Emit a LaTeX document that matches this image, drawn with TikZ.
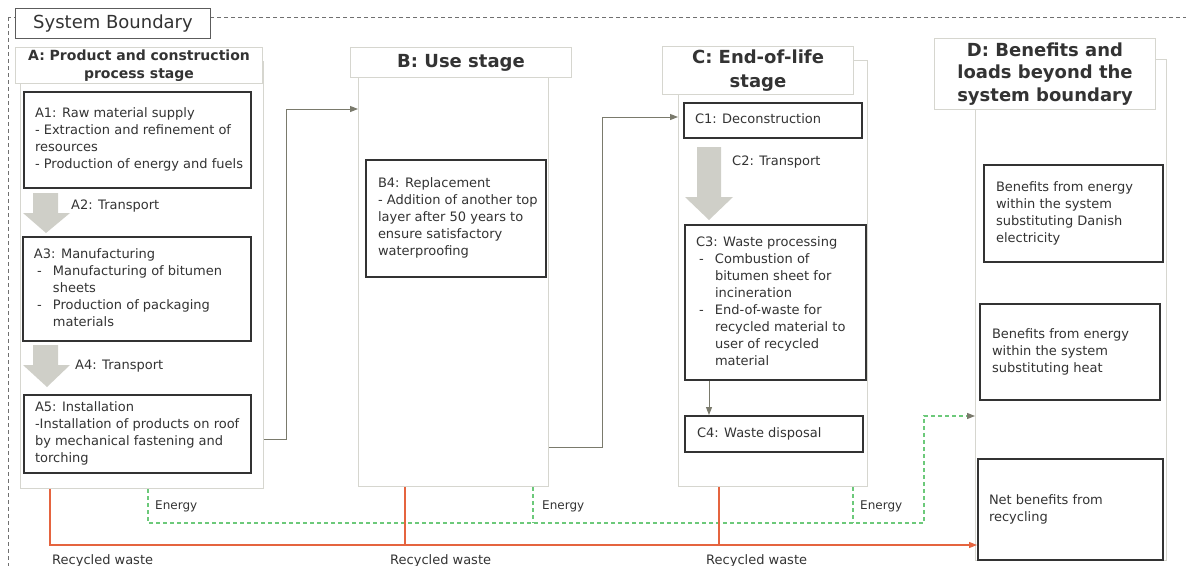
\documentclass[tikz,border=0pt]{standalone}
\usepackage{fontspec}
\setmainfont{DejaVu Sans}
\usetikzlibrary{arrows.meta}
\definecolor{txt}{HTML}{333333}
\definecolor{frm}{HTML}{D6D6CF}
\definecolor{conn}{HTML}{7A7A6C}
\definecolor{blk}{HTML}{CFCFC8}
\definecolor{redl}{HTML}{E5643F}
\definecolor{grnl}{HTML}{6CC97A}
\definecolor{bnd}{HTML}{707070}
\definecolor{dark}{HTML}{333333}
\newcommand\tb[2]{\makebox[#1pt][l]{\begin{tabular}{@{}l@{}}#2\end{tabular}}}
\newcommand\dsh{\hspace*{3pt}\makebox[16pt][l]{-}}
\newcommand\ind{\hspace*{19pt}}
\begin{document}
\begin{tikzpicture}[x=1pt,y=-1pt,
  every node/.style={text=txt,font=\fontsize{13}{17}\selectfont},
  col/.style={draw=frm,line width=1pt,anchor=north west,inner sep=0pt},
  hdr/.style={draw=frm,line width=1pt,fill=white,anchor=north west,inner sep=0pt,align=center},
  pbox/.style={draw=dark,line width=2pt,fill=white,anchor=north west,inner xsep=10pt,inner ysep=0pt},
  lbl/.style={anchor=west,inner sep=0pt},
  cn/.style={draw=conn,line width=1pt,-{Triangle[length=8pt,width=6pt]}},
  rl/.style={draw=redl,line width=1.2pt},
  gl/.style={draw=grnl,line width=1.2pt,dash pattern=on 4pt off 3pt},
  arr/.style={fill=blk,draw=none}]
\useasboundingbox (0,0) rectangle (1186,565);
% system boundary
\draw[bnd,line width=1pt,dash pattern=on 4pt off 3pt] (8,17) rectangle (1200,580);
\node[draw=dark!80,line width=1pt,fill=white,anchor=north west,inner sep=0pt,minimum width=195pt,minimum height=30pt,font=\fontsize{18}{20}\selectfont] (sb) at (15,8) {System Boundary};
% columns
\node[col,minimum width=243pt,minimum height=427pt] (colA) at (20,61) {};
\node[col,minimum width=190pt,minimum height=409pt] (colB) at (358,77) {};
\node[col,minimum width=189pt,minimum height=426pt] (colC) at (678,60) {};
\node[col,minimum width=191pt,minimum height=501pt] (colD) at (975,59) {};
% headers
\node[hdr,minimum width=247pt,minimum height=36pt,font=\fontsize{14}{18}\selectfont\bfseries] (hA) at (15,47) {A: Product and construction\\process stage};
\node[hdr,minimum width=221pt,minimum height=30pt,font=\fontsize{18}{22}\selectfont\bfseries] (hB) at (350,47) {B: Use stage};
\node[hdr,minimum width=191pt,minimum height=46pt,font=\fontsize{18}{24}\selectfont\bfseries] (hC) at (662,46) {\raisebox{-2pt}{\begin{tabular}{@{}c@{}}C: End-of-life\\stage\end{tabular}}};
\node[hdr,minimum width=221pt,minimum height=71pt,font=\fontsize{18}{22.5}\selectfont\bfseries] (hD) at (934,38) {\raisebox{-2pt}{\begin{tabular}{@{}c@{}}D: Benefits and\\loads beyond the\\system boundary\end{tabular}}};
% stage A boxes
\node[pbox,minimum width=227pt,minimum height=96pt] (A1) at (23,91) {\tb{205}{A1: Raw material supply\\- Extraction and refinement of\\resources\\- Production of energy and fuels}};
\node[pbox,minimum width=228pt,minimum height=104pt] (A3) at (22,236) {\tb{206}{A3: Manufacturing\\\dsh Manufacturing of bitumen\\\ind sheets\\\dsh Production of packaging\\\ind materials}};
\node[pbox,minimum width=227pt,minimum height=78pt] (A5) at (23,394) {\tb{205}{A5: Installation\\-Installation of products on roof\\by mechanical fastening and\\torching}};
% block arrows A
\fill[arr] (33,193) -- (58,193) -- (58,213) -- (70,213) -- (46,233) -- (23,213) -- (33,213) -- cycle;
\fill[arr] (33,345) -- (58,345) -- (58,365) -- (70,365) -- (47,387) -- (23,365) -- (33,365) -- cycle;
\node[lbl] (tA2) at (71,206) {A2: Transport};
\node[lbl] (tA4) at (75,366) {A4: Transport};
% stage B
\node[pbox,minimum width=180pt,minimum height=117pt,inner xsep=11pt] (B4) at (365,159) {\tb{156}{B4: Replacement\\- Addition of another top\\layer after 50 years to\\ensure satisfactory\\waterproofing}};
% stage C
\node[pbox,minimum width=178pt,minimum height=35pt] (C1) at (683,102) {\tb{156}{C1: Deconstruction}};
\fill[arr] (697,147) -- (721,147) -- (721,197) -- (733,197) -- (709,220) -- (685,197) -- (697,197) -- cycle;
\node[lbl] (tC2) at (732,162) {C2: Transport};
\node[pbox,minimum width=181pt,minimum height=155pt] (C3) at (684,224) {\tb{159}{C3: Waste processing\\\dsh Combustion of\\\ind bitumen sheet for\\\ind incineration\\\dsh End-of-waste for\\\ind recycled material to\\\ind user of recycled\\\ind material}};
\node[pbox,minimum width=178pt,minimum height=36pt,inner xsep=11pt] (C4) at (684,415) {\tb{154}{C4: Waste disposal}};
% stage D
\node[pbox,minimum width=179pt,minimum height=97pt,inner xsep=11pt] (D1) at (983,164) {\tb{155}{Benefits from energy\\within the system\\substituting Danish\\electricity}};
\node[pbox,minimum width=180pt,minimum height=96pt,inner xsep=11pt] (D2) at (979,303) {\tb{156}{Benefits from energy\\within the system\\substituting heat}};
\node[pbox,minimum width=185pt,minimum height=101pt] (D3) at (977,458) {\tb{163}{Net benefits from\\recycling}};
% helper coordinates
\coordinate (yAB) at (0,439);
\coordinate (yAB2) at (0,109);
\coordinate (yBC) at (0,447);
\coordinate (yBC2) at (0,117);
\coordinate (xC) at (709,0);
\coordinate (xe1) at (148,0);
\coordinate (xe2) at (533,0);
\coordinate (xe3) at (853,0);
\coordinate (xe4) at (924,0);
\coordinate (ye) at (0,523);
\coordinate (yd) at (0,416);
\coordinate (xr1) at (50,0);
\coordinate (xr2) at (405,0);
\coordinate (xr3) at (719,0);
\coordinate (yr) at (0,545);
% connectors
\draw[cn] (colA.east |- yAB) -- ++(22,0) |- (colB.west |- yAB2);
\draw[cn] (colB.east |- yBC) -- ++(53,0) |- (colC.west |- yBC2);
\draw[cn] (C3.south -| xC) -- (C4.north -| xC);
% energy
\draw[gl,-{Triangle[length=8pt,width=6pt,color=conn]}] (colA.south -| xe1) -- (xe1 |- ye) -- (xe4 |- ye) |- (colD.west |- yd);
\draw[gl] (colB.south -| xe2) -- (xe2 |- ye);
\draw[gl] (colC.south -| xe3) -- (xe3 |- ye);
\node[lbl,font=\fontsize{12}{14}\selectfont] (eA) at (155,506) {Energy};
\node[lbl,font=\fontsize{12}{14}\selectfont] (eB) at (542,506) {Energy};
\node[lbl,font=\fontsize{12}{14}\selectfont] (eC) at (860,506) {Energy};
% recycled waste
\draw[rl,-{Triangle[length=8pt,width=6pt]}] (colA.south -| xr1) |- (D3.west |- yr);
\draw[rl] (colB.south -| xr2) -- (xr2 |- yr);
\draw[rl] (colC.south -| xr3) -- (xr3 |- yr);
\node[anchor=base west,inner sep=0pt] (rA) at (52,564) {Recycled waste};
\node[anchor=base west,inner sep=0pt] (rB) at (390,564) {Recycled waste};
\node[anchor=base west,inner sep=0pt] (rC) at (706,564) {Recycled waste};
\end{tikzpicture}
\end{document}
